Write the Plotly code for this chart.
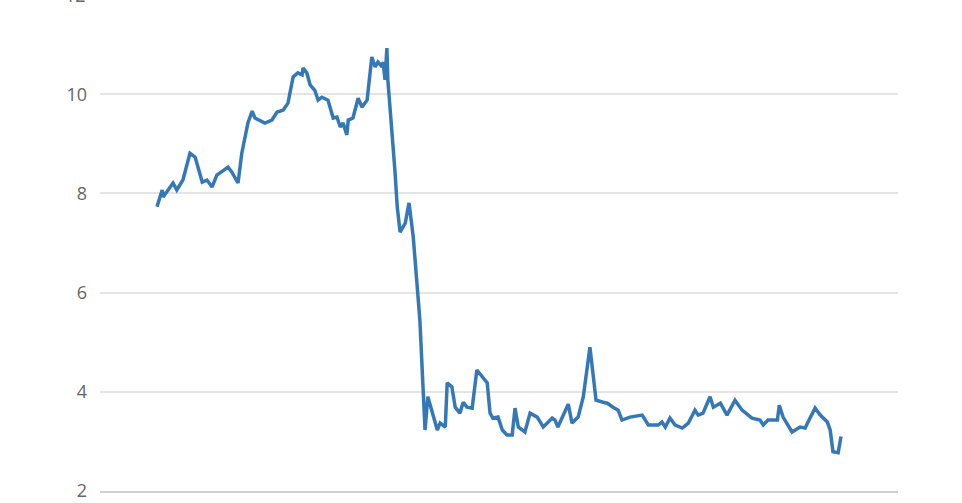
import plotly.graph_objects as go

dates = [
    "2015-03-31", "2015-04-11", "2015-04-13", "2015-05-04", "2015-05-12", "2015-05-25",
    "2015-06-09", "2015-06-20", "2015-07-05", "2015-07-15", "2015-07-26", "2015-08-05",
    "2015-08-29", "2015-09-06", "2015-09-19", "2015-09-27", "2015-10-10", "2015-10-19",
    "2015-10-25", "2015-11-15", "2015-11-30", "2015-12-11", "2015-12-24", "2016-01-03",
    "2016-01-14", "2016-01-24", "2016-02-02", "2016-02-04", "2016-02-12", "2016-02-19",
    "2016-02-29", "2016-03-07", "2016-03-15", "2016-03-28", "2016-04-08", "2016-04-16",
    "2016-04-23", "2016-04-29", "2016-05-07", "2016-05-10", "2016-05-20", "2016-05-31",
    "2016-06-08", "2016-06-19", "2016-06-29", "2016-07-06", "2016-07-12", "2016-07-21",
    "2016-07-23", "2016-07-27", "2016-07-31", "2016-08-02", "2016-08-17", "2016-08-22",
    "2016-08-28", "2016-09-08", "2016-09-16", "2016-09-25", "2016-10-09", "2016-10-20",
    "2016-10-26", "2016-11-10", "2016-11-15", "2016-11-21", "2016-12-02", "2016-12-06",
    "2016-12-16", "2016-12-23", "2017-01-02", "2017-01-09", "2017-01-17", "2017-01-28",
    "2017-02-07", "2017-03-01", "2017-03-07", "2017-03-13", "2017-03-24", "2017-04-02",
    "2017-04-12", "2017-04-23", "2017-04-29", "2017-05-06", "2017-05-20", "2017-05-31",
    "2017-06-15", "2017-06-28", "2017-07-17", "2017-07-23", "2017-07-29", "2017-08-20",
    "2017-08-28", "2017-09-10", "2017-09-21", "2017-10-05", "2017-10-18", "2017-11-02",
    "2017-11-11", "2017-11-23", "2017-12-04", "2017-12-12", "2017-12-29", "2018-01-24",
    "2018-02-06", "2018-02-27", "2018-03-07", "2018-03-14", "2018-03-24", "2018-04-04",
    "2018-04-19", "2018-05-02", "2018-05-16", "2018-05-23", "2018-06-02", "2018-06-17",
    "2018-06-24", "2018-07-09", "2018-07-23", "2018-08-09", "2018-08-24", "2018-09-14",
    "2018-10-01", "2018-10-08", "2018-10-18", "2018-11-07", "2018-11-11", "2018-11-19",
    "2018-12-08", "2018-12-25", "2019-01-05", "2019-01-11", "2019-01-26", "2019-02-06",
    "2019-02-21", "2019-02-27", "2019-03-05", "2019-03-16", "2019-03-22",
]

values = [
    7.73, 8.07, 7.93, 8.21, 8.07, 8.27,
    8.81, 8.73, 8.23, 8.27, 8.13, 8.37,
    8.53, 8.43, 8.21, 8.81, 9.42, 9.66,
    9.52, 9.42, 9.48, 9.64, 9.68, 9.82,
    10.35, 10.43, 10.39, 10.53, 10.43, 10.19,
    10.08, 9.88, 9.94, 9.88, 9.52, 9.54,
    9.34, 9.42, 9.18, 9.48, 9.52, 9.92,
    9.74, 9.88, 10.75, 10.55, 10.65, 10.55,
    10.65, 10.29, 10.93, 10.29, 8.47, 7.73,
    7.22, 7.40, 7.81, 7.12, 5.45, 3.23,
    3.90, 3.43, 3.23, 3.37, 3.29, 4.18,
    4.10, 3.69, 3.57, 3.79, 3.69, 3.67,
    4.44, 4.18, 3.57, 3.47, 3.49, 3.23,
    3.13, 3.13, 3.67, 3.29, 3.19, 3.57,
    3.49, 3.29, 3.47, 3.43, 3.29, 3.75,
    3.37, 3.49, 3.90, 4.90, 3.83, 3.79,
    3.77, 3.69, 3.63, 3.43, 3.49, 3.53,
    3.33, 3.33, 3.39, 3.29, 3.47, 3.33,
    3.27, 3.37, 3.63, 3.53, 3.57, 3.90,
    3.69, 3.77, 3.53, 3.83, 3.63, 3.47,
    3.43, 3.33, 3.43, 3.43, 3.73, 3.49,
    3.19, 3.29, 3.27, 3.39, 3.67, 3.53,
    3.39, 3.23, 2.79, 2.77, 3.10,
]

y_ticks = [2, 4, 6, 8, 10]
top_tick_label = "12"
x_tick_vals = ["2016-01-01", "2017-01-01", "2018-01-01", "2019-01-01"]
x_tick_text = ["Jan 2016", "Jan 2017", "Jan 2018", "Jan 2019"]

LINE = "#3478b8"
GRID = "#e4e4e4"
TXT = "#666666"
FONT = "Open Sans"

fig = go.Figure()
fig.add_trace(go.Scatter(
    x=dates, y=values, mode="lines",
    line=dict(color=LINE, width=3.5),
    hoverinfo="x+y", showlegend=False,
))

fig.update_layout(
    width=962, height=503,
    margin=dict(l=100, r=64, t=0, b=12),
    paper_bgcolor="white", plot_bgcolor="white",
    font=dict(family=FONT, size=18, color=TXT),
    xaxis=dict(
        type="date",
        range=["2014-11-30", "2019-07-21"],
        tickvals=x_tick_vals, ticktext=x_tick_text,
        showgrid=False, zeroline=False,
        showline=True, linecolor="#d0d0d0", linewidth=2,
        ticks="", ticklabelstandoff=3,
        automargin=False,
        tickfont=dict(family=FONT, size=18, color=TXT),
    ),
    yaxis=dict(
        range=[2, 11.9],
        tickvals=y_ticks,
        showgrid=True, gridcolor=GRID, gridwidth=2,
        zeroline=False, showline=False,
        ticks="", ticklabelstandoff=12,
        automargin=False,
        tickfont=dict(family=FONT, size=18, color=TXT),
    ),
    annotations=[dict(
        text=top_tick_label, xref="paper", x=0, xanchor="right", xshift=-12,
        yref="paper", y=1, yanchor="middle", yshift=5, showarrow=False,
        font=dict(family=FONT, size=18, color=TXT),
    )],
)

fig.write_html(
    "out.html",
    config={"displayModeBar": False},
    post_script="document.body.style.margin='0';document.body.style.overflow='hidden';",
)
